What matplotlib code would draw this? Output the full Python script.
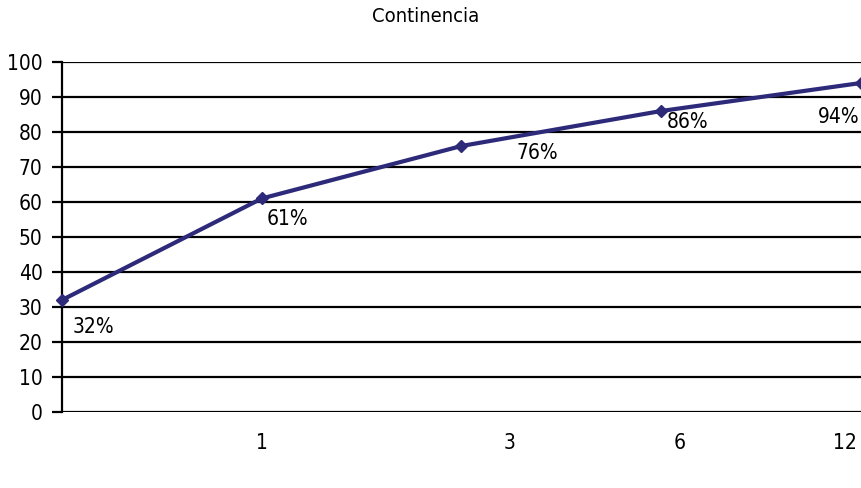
import matplotlib
matplotlib.use("Agg")
import matplotlib.pyplot as plt

# data
months = ["0", "1", "3", "6", "12"]
continencia = [32, 61, 76, 86, 94]
tick_labels = ["1", "3", "6", "12"]
y_ticks = [0, 10, 20, 30, 40, 50, 60, 70, 80, 90, 100]

# layout (label placement copied from the original chart)
tick_pos = [1.0, 2.24, 3.09, 3.92]
label_offsets = [(31, -27), (26, -21), (76, -7), (26, -11), (-22, -34)]

plt.rcParams["font.family"] = ["DejaVu Sans"]
plt.rcParams["font.stretch"] = "condensed"
line_color = "#2e2a7a"

fig = plt.figure(figsize=(8.61, 4.88), dpi=100)
ax = fig.add_axes([0.072, 0.1557, 0.928, 0.7173])

xs = list(range(len(continencia)))
ax.plot(xs, continencia, color=line_color, lw=3.0, marker="D", ms=6,
        clip_on=False, zorder=3)

for x, v, (dx, dy) in zip(xs, continencia, label_offsets):
    ax.annotate(f"{v}%", (x, v), xytext=(dx * 0.72, dy * 0.72),
                textcoords="offset points", ha="center", va="center",
                fontsize=15)

ax.set_xlim(0, len(continencia) - 1)
ax.set_ylim(0, 100)
ax.set_yticks(y_ticks)
ax.set_xticks(tick_pos)
ax.set_xticklabels(tick_labels)
ax.yaxis.grid(True, color="black", lw=1.6)
ax.set_axisbelow(True)

for side in ["top", "right", "bottom"]:
    ax.spines[side].set_visible(False)
ax.spines["left"].set_linewidth(1.6)

ax.tick_params(axis="y", length=7, width=1.6, labelsize=15, pad=7)
ax.tick_params(axis="x", length=0, labelsize=15, pad=15)

fig.suptitle("Continencia", x=0.494, y=0.985, fontsize=14.5, va="top")

fig.savefig("out.png", dpi=100)
